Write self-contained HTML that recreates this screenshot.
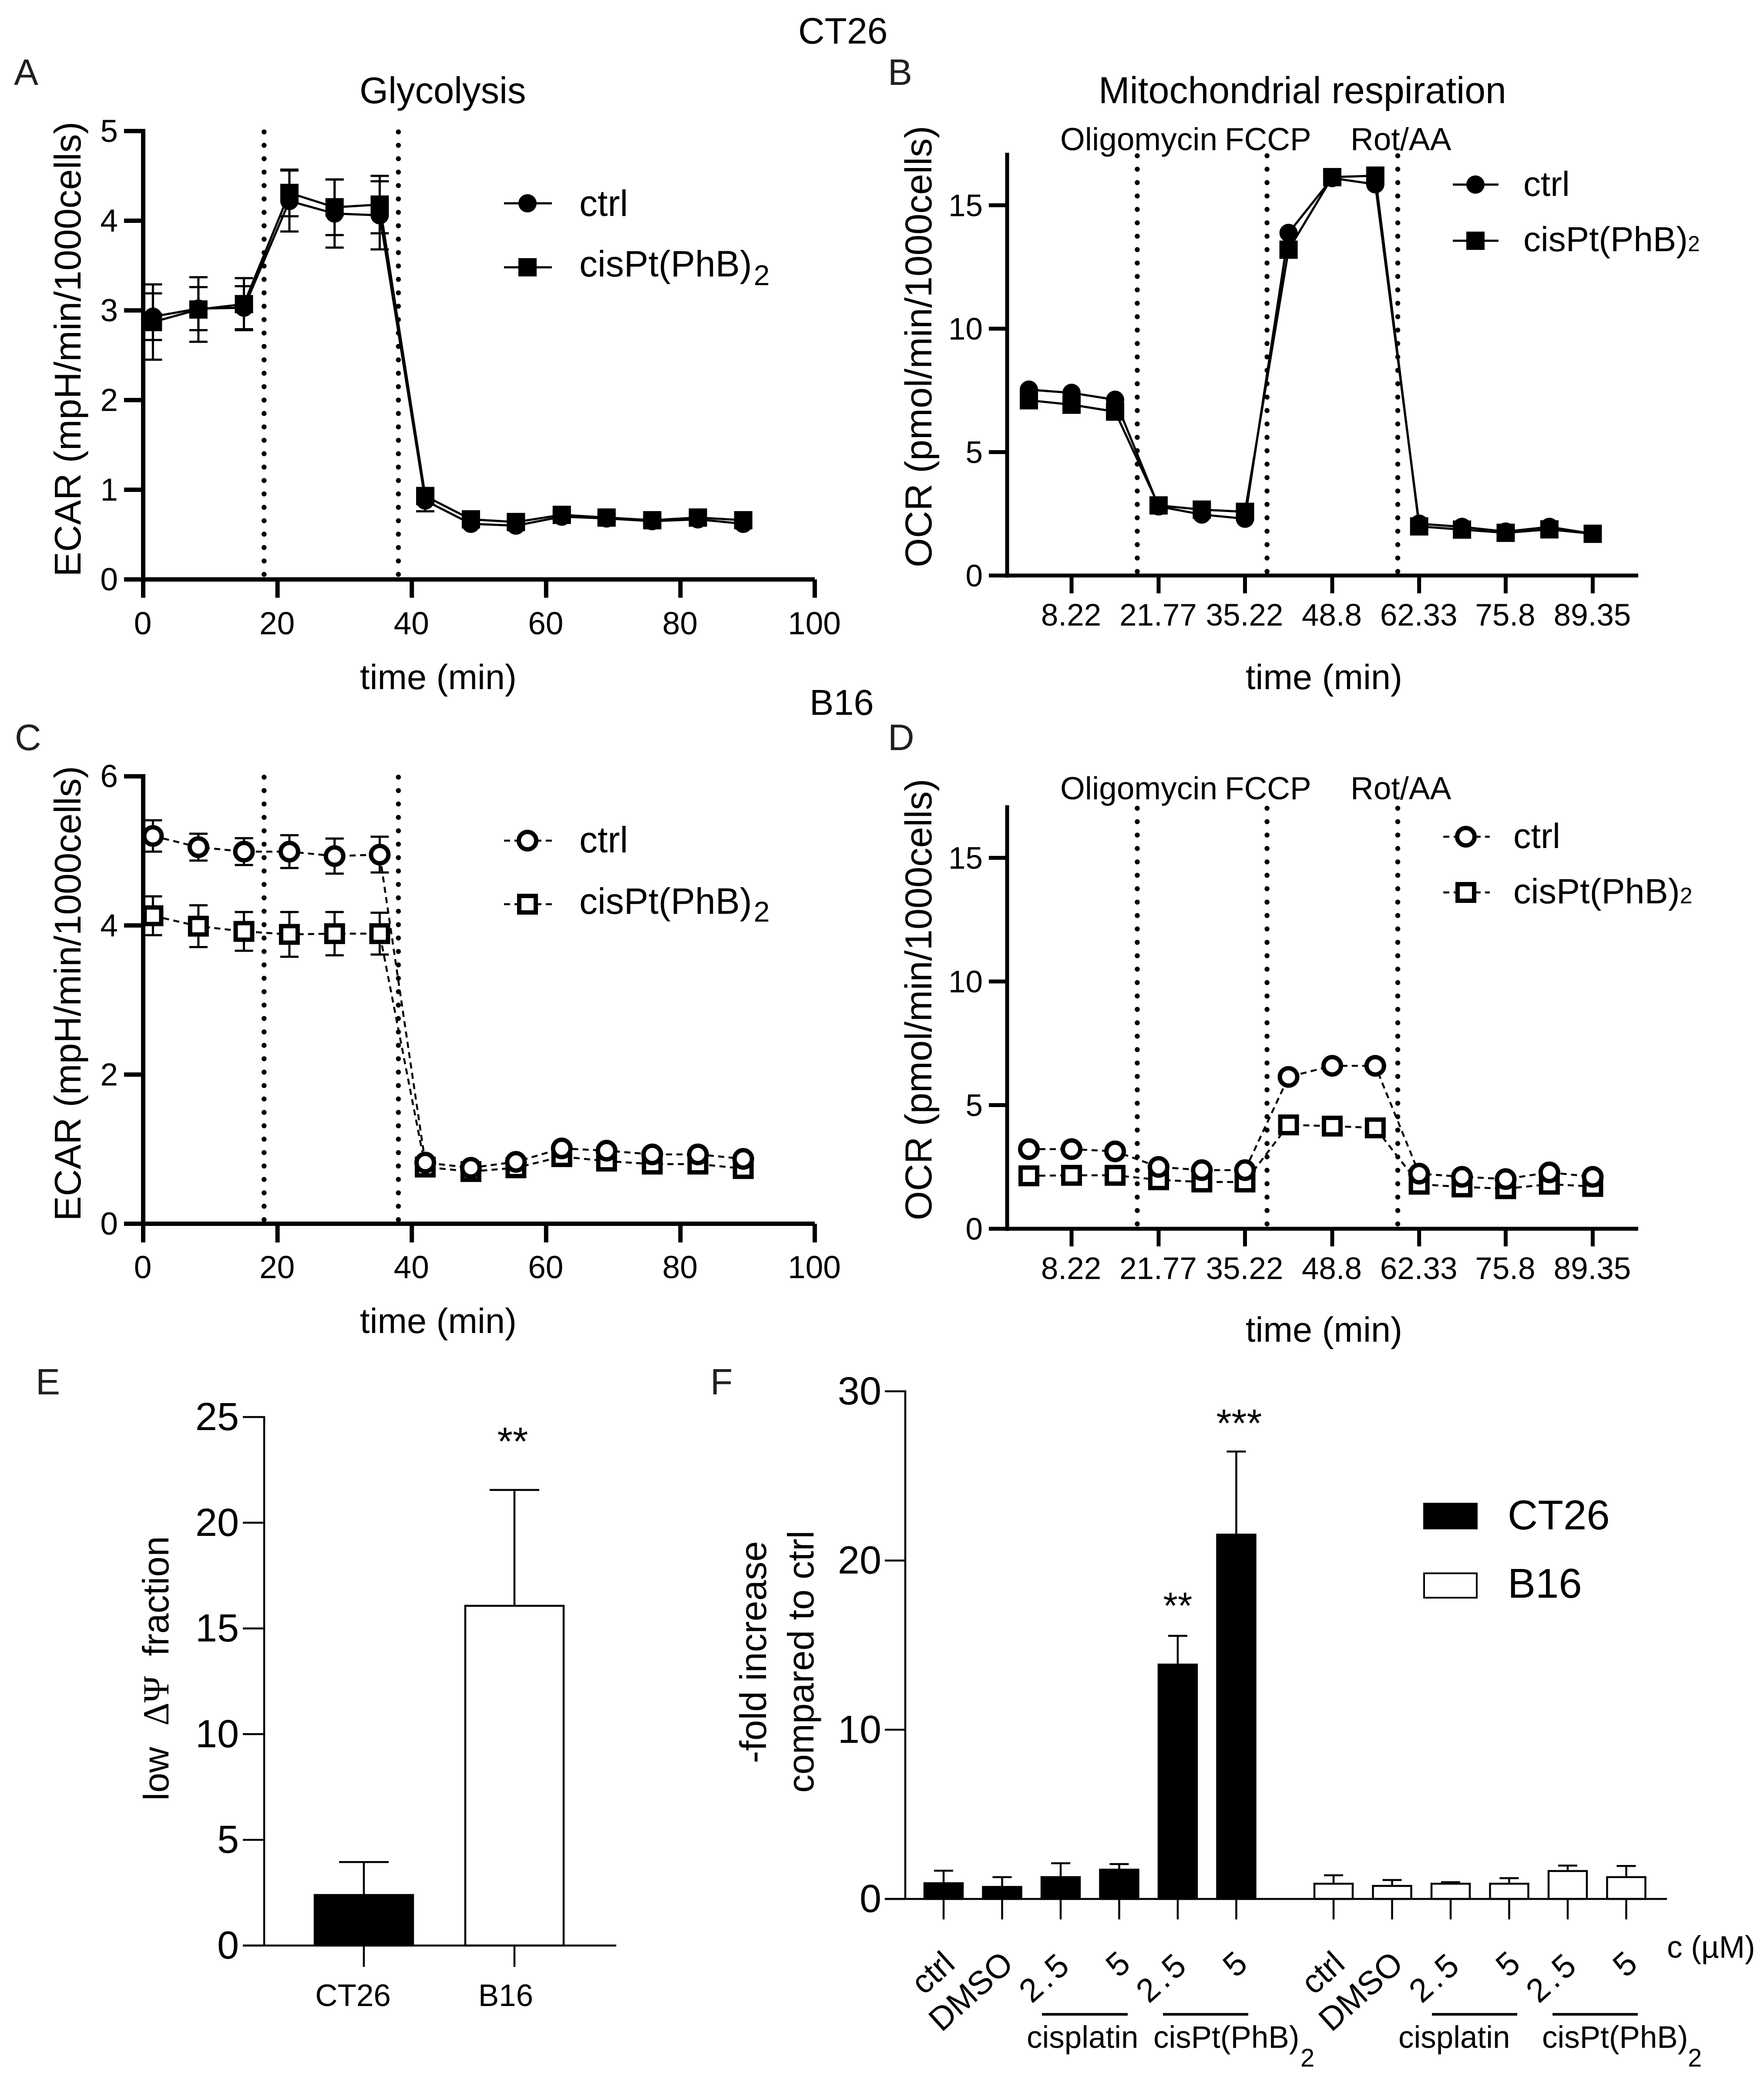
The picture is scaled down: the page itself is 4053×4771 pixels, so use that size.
<!DOCTYPE html>
<html lang="en">
<head>
<meta charset="utf-8">
<title>CT26 and B16 metabolic panels</title>
<style>
html,body{margin:0;padding:0;background:#fff;}
svg{display:block;font-family:"Liberation Sans",Arial,sans-serif;fill:#000;}
</style>
</head>
<body>
<svg id="figure" xmlns="http://www.w3.org/2000/svg" width="4053" height="4771" viewBox="0 0 4053 4771">
<rect width="4053" height="4771" fill="#fff"/>
<text x="1834" y="100" font-size="84">CT26</text>
<text x="1860" y="1642" font-size="83">B16</text>

<g id="panel-a">
<text x="32" y="195" font-size="84" fill="#231f20">A</text>
<text x="826" y="237" font-size="85">Glycolysis</text>
<text x="827" y="1583" font-size="81">time (min)</text>
<text transform="translate(185,802) rotate(-90)" text-anchor="middle" font-size="85.5">ECAR (mpH/min/1000cells)</text>
<g>
<line x1="1158" x2="1268" y1="467" y2="467" stroke="#000" stroke-width="5"/>
<circle cx="1212" cy="467" r="21"/>
<text x="1331" y="496" font-size="84">ctrl</text>
<line x1="1158" x2="1268" y1="614" y2="614" stroke="#000" stroke-width="5"/>
<rect x="1191" y="593" width="42" height="42"/>
<text x="1331" y="635" font-size="84">cisPt(PhB)<tspan font-size="66" dy="20" dx="4">2</tspan></text>
</g>
</g>

<g id="panel-b">
<text x="2040" y="195" font-size="84" fill="#231f20">B</text>
<text x="2524" y="237" font-size="86">Mitochondrial respiration</text>
<text x="2436" y="345" font-size="73">Oligomycin</text>
<text x="2814" y="345" font-size="73">FCCP</text>
<text x="3103" y="345" font-size="73">Rot/AA</text>
<text x="2862" y="1583" font-size="81">time (min)</text>
<text transform="translate(2140,796) rotate(-90)" text-anchor="middle" font-size="86.5">OCR (pmol/min/1000cells)</text>
<g>
<line x1="3338" x2="3443" y1="424" y2="424" stroke="#000" stroke-width="5"/>
<circle cx="3390" cy="424" r="21"/>
<text x="3500" y="450" font-size="80">ctrl</text>
<line x1="3338" x2="3443" y1="553" y2="553" stroke="#000" stroke-width="5"/>
<rect x="3369" y="532" width="42" height="42"/>
<text x="3500" y="577" font-size="80">cisPt(PhB)<tspan font-size="50">2</tspan></text>
</g>
</g>

<g id="panel-c">
<text x="34" y="1723" font-size="84" fill="#231f20">C</text>
<text x="827" y="3062" font-size="81">time (min)</text>
<text transform="translate(185,2282) rotate(-90)" text-anchor="middle" font-size="85.5">ECAR (mpH/min/1000cells)</text>
<g>
<line x1="1158" x2="1268" y1="1931" y2="1931" stroke="#000" stroke-width="4.5" stroke-dasharray="14 10"/>
<circle cx="1212" cy="1931" r="20" fill="#fff" stroke="#000" stroke-width="10"/>
<text x="1331" y="1958" font-size="84">ctrl</text>
<line x1="1158" x2="1268" y1="2077" y2="2077" stroke="#000" stroke-width="4.5" stroke-dasharray="14 10"/>
<rect x="1193" y="2058" width="38" height="38" fill="#fff" stroke="#000" stroke-width="10"/>
<text x="1331" y="2099" font-size="84">cisPt(PhB)<tspan font-size="66" dy="18" dx="4">2</tspan></text>
</g>
</g>

<g id="panel-d">
<text x="2040" y="1723" font-size="84" fill="#231f20">D</text>
<text x="2436" y="1836" font-size="73">Oligomycin</text>
<text x="2814" y="1836" font-size="73">FCCP</text>
<text x="3103" y="1836" font-size="73">Rot/AA</text>
<text x="2862" y="3082" font-size="81">time (min)</text>
<text transform="translate(2140,2296) rotate(-90)" text-anchor="middle" font-size="86.5">OCR (pmol/min/1000cells)</text>
<g>
<line x1="3316" x2="3423" y1="1922" y2="1922" stroke="#000" stroke-width="4.5" stroke-dasharray="14 10"/>
<circle cx="3368" cy="1922" r="20" fill="#fff" stroke="#000" stroke-width="10"/>
<text x="3477" y="1948" font-size="81">ctrl</text>
<line x1="3316" x2="3423" y1="2050" y2="2050" stroke="#000" stroke-width="4.5" stroke-dasharray="14 10"/>
<rect x="3349" y="2031" width="38" height="38" fill="#fff" stroke="#000" stroke-width="10"/>
<text x="3477" y="2075" font-size="81">cisPt(PhB)<tspan font-size="52">2</tspan></text>
</g>
</g>

<g id="panel-e">
<text x="82" y="3203" font-size="84" fill="#231f20">E</text>
<text transform="translate(387,4136) rotate(-90)" font-size="82">low</text>
<text transform="translate(387,3964) rotate(-90)" font-size="85" textLength="114" lengthAdjust="spacingAndGlyphs" font-family="'Liberation Serif',serif">&#916;&#936;</text>
<text transform="translate(387,3804) rotate(-90)" font-size="84">fraction</text>
<text x="1178" y="3342" font-size="91" text-anchor="middle">**</text>
</g>

<g id="panel-f">
<text x="1632" y="3203" font-size="84" fill="#231f20">F</text>
<text transform="translate(1760,3795) rotate(-90)" text-anchor="middle" font-size="85">-fold increase</text>
<text transform="translate(1869,3817) rotate(-90)" text-anchor="middle" font-size="84">compared to ctrl</text>
<text x="2706" y="3718" font-size="86" text-anchor="middle">**</text>
<text x="2847" y="3300" font-size="90" text-anchor="middle">***</text>
<g>
<rect x="3270" y="3452" width="125" height="61"/>
<text x="3464" y="3513" font-size="96">CT26</text>
<rect x="3272" y="3614" width="121" height="56" fill="#fff" stroke="#000" stroke-width="4"/>
<text x="3464" y="3670" font-size="96">B16</text>
</g>
<text x="3830" y="4497" font-size="71">c (&#181;M)</text>
<line x1="2394" x2="2591" y1="4627" y2="4627" stroke="#000" stroke-width="6"/>
<line x1="2672" x2="2868" y1="4627" y2="4627" stroke="#000" stroke-width="6"/>
<line x1="3290" x2="3486" y1="4627" y2="4627" stroke="#000" stroke-width="6"/>
<line x1="3567" x2="3763" y1="4627" y2="4627" stroke="#000" stroke-width="6"/>
<text x="2359" y="4704" font-size="71">cisplatin</text>
<text x="2650" y="4704" font-size="71">cisPt(PhB)</text>
<text x="2988" y="4747" font-size="58">2</text>
<text x="3213" y="4704" font-size="71">cisplatin</text>
<text x="3543" y="4704" font-size="71">cisPt(PhB)</text>
<text x="3878" y="4747" font-size="58">2</text>
</g>
</svg>

<script>
// Shared time base and axis values
const times = [1.45, 8.22, 15, 21.77, 28.5, 35.22, 42, 48.8, 55.5, 62.33, 69, 75.8, 82.6, 89.35];
const ocrTimes = [1.58, 8.22, 15, 21.77, 28.5, 35.22, 42, 48.8, 55.5, 62.33, 69, 75.8, 82.6, 89.35];
const minuteTicks = [0, 20, 40, 60, 80, 100];
const ocrTimeTicks = [8.22, 21.77, 35.22, 48.8, 62.33, 75.8, 89.35];
const ocrValueTicks = [0, 5, 10, 15];
const ecarTicksA = [0, 1, 2, 3, 4, 5];
const ecarTicksC = [0, 2, 4, 6];
const injectionsEcar = [18, 38];
const injectionsOcr = [18.45, 38.65, 59];

// Panel A values
const aCtrl = [2.93, 3.02, 3.03, 4.22, 4.08, 4.06, 0.88, 0.62, 0.6, 0.7, 0.68, 0.65, 0.67, 0.62];
const aCtrlErr = [0.26, 0.24, 0.24, 0.34, 0.38, 0.38, 0.12, 0.04, 0.04, 0.04, 0.04, 0.04, 0.04, 0.04];
const aDrug = [2.87, 3.01, 3.07, 4.31, 4.15, 4.18, 0.93, 0.67, 0.64, 0.72, 0.69, 0.66, 0.69, 0.66];
const aDrugErr = [0.42, 0.36, 0.29, 0.26, 0.31, 0.32, 0.05, 0.04, 0.04, 0.04, 0.04, 0.04, 0.04, 0.04];

// Panel B values
const bCtrl = [7.53, 7.4, 7.12, 2.8, 2.47, 2.3, 13.88, 16.1, 15.85, 2.1, 1.97, 1.78, 1.97, 1.69];
const bDrug = [7.1, 6.92, 6.64, 2.84, 2.67, 2.58, 13.2, 16.14, 16.2, 1.99, 1.86, 1.73, 1.87, 1.69];

// Panel C values
const cCtrl = [5.2, 5.05, 4.99, 4.99, 4.93, 4.95, 0.82, 0.75, 0.83, 1.01, 0.98, 0.93, 0.93, 0.87];
const cCtrlErr = [0.21, 0.18, 0.18, 0.22, 0.235, 0.24, 0.03, 0.03, 0.03, 0.03, 0.03, 0.03, 0.03, 0.03];
const cDrug = [4.13, 3.99, 3.92, 3.88, 3.89, 3.89, 0.76, 0.7, 0.75, 0.9, 0.84, 0.8, 0.8, 0.74];
const cDrugErr = [0.26, 0.28, 0.26, 0.3, 0.29, 0.28, 0.03, 0.03, 0.03, 0.03, 0.03, 0.03, 0.03, 0.03];

// Panel D values
const dCtrl = [3.22, 3.22, 3.13, 2.5, 2.37, 2.37, 6.14, 6.59, 6.59, 2.23, 2.1, 2.01, 2.28, 2.1];
const dDrug = [2.14, 2.16, 2.16, 1.98, 1.89, 1.89, 4.2, 4.15, 4.08, 1.8, 1.69, 1.62, 1.8, 1.71];

// Panel E values
const eCategories = ['CT26', 'B16'];
const eValues = [2.39, 16.07];
const eUpper = [3.95, 21.55];
const eTicks = [0, 5, 10, 15, 20, 25];

// Panel F values
const fCategories = ['ctrl', 'DMSO', '2.5', '5', '2.5', '5', 'ctrl', 'DMSO', '2.5', '5', '2.5', '5'];
const fValues = [0.93, 0.71, 1.29, 1.73, 13.85, 21.53, 0.9, 0.77, 0.9, 0.9, 1.65, 1.29];
const fUpper = [1.67, 1.29, 2.11, 2.06, 15.55, 26.44, 1.4, 1.12, 0.99, 1.23, 1.97, 1.95];
const fTicks = [0, 10, 20, 30];

const SVG_NS = 'http://www.w3.org/2000/svg';

function make(parent, tag, attrs) {
  const node = document.createElementNS(SVG_NS, tag);
  for (const key in attrs) node.setAttribute(key, attrs[key]);
  parent.appendChild(node);
  return node;
}

function stroke(parent, x1, y1, x2, y2, width) {
  return make(parent, 'line', {x1: x1, y1: y1, x2: x2, y2: y2, stroke: '#000', 'stroke-width': width, 'stroke-linecap': 'butt'});
}

function drawTimePanel(cfg) {
  const root = document.getElementById(cfg.id);
  const px = t => cfg.xOrigin + (t - cfg.xRef) * cfg.xUnit;
  const py = v => cfg.y0 - v * cfg.yUnit;

  const axes = make(root, 'g', {});
  
  

  const yAxis = stroke(axes, cfg.axisX, py(cfg.yMax) - 5, cfg.axisX, cfg.y0 + 5, cfg.axisWidth);
  
  

  const xAxis = stroke(axes, cfg.axisX, cfg.y0, cfg.axisEnd, cfg.y0, cfg.axisWidth);
  
  

  cfg.yTicks.forEach(v => {
    const tick = stroke(axes, cfg.yTickLeft, py(v), cfg.axisX, py(v), cfg.axisWidth);
    
    
    const label = make(axes, 'text', {x: cfg.yLabelRight, y: py(v) + 25, 'font-size': cfg.yFont, 'text-anchor': 'end'});
    label.textContent = String(v);
    
    
  });

  cfg.xTicks.forEach(t => {
    const tick = stroke(axes, px(t), cfg.y0, px(t), cfg.xTickBottom, cfg.axisWidth);
    
    
    const label = make(axes, 'text', {x: px(t) - 1, y: cfg.xLabelY, 'font-size': cfg.xFont, 'text-anchor': 'middle'});
    label.textContent = String(t);
    
    
  });

  cfg.injections.forEach(t => {
    const guide = make(axes, 'line', {x1: px(t), x2: px(t), y1: py(cfg.yMax) + 2, y2: cfg.y0, stroke: '#000', 'stroke-width': 11.5, 'stroke-linecap': 'round', 'stroke-dasharray': '0 30.8'});
    
    
  });

  const dash = cfg.open ? '14 10' : 'none';
  const lineWidth = cfg.open ? 4.5 : 5;
  cfg.series.forEach(s => {
    const group = make(root, 'g', {});
    
    

    const pts = s.values.map((v, i) => px(cfg.times[i]) + ',' + py(v)).join(' ');
    const path = make(group, 'polyline', {points: pts, fill: 'none', stroke: '#000', 'stroke-width': lineWidth, 'stroke-dasharray': dash, 'stroke-linejoin': 'round'});
    
    

    if (s.err) {
      s.values.forEach((v, i) => {
        const x = px(cfg.times[i]);
        const hi = py(v + s.err[i]);
        const lo = py(v - s.err[i]);
        const stem = stroke(group, x, hi, x, lo, 5);
        
        
        const capTop = stroke(group, x - 21, hi, x + 21, hi, 5);
        
        
        const capBottom = stroke(group, x - 21, lo, x + 21, lo, 5);
        
        
      });
    }

    s.values.forEach((v, i) => {
      const x = px(cfg.times[i]);
      const y = py(v);
      const fill = cfg.open ? '#fff' : '#000';
      const sw = cfg.open ? 10 : 0;
      let mark;
      if (s.shape === 'circle') {
        mark = make(group, 'circle', {cx: x, cy: y, r: cfg.open ? 20 : 21, fill: fill, stroke: '#000', 'stroke-width': sw});
      } else {
        const half = cfg.open ? 19 : 21;
        mark = make(group, 'rect', {x: x - half, y: y - half, width: half * 2, height: half * 2, fill: fill, stroke: '#000', 'stroke-width': sw});
      }
      
      
    });
  });
}

function drawBarPanel(cfg) {
  const root = document.getElementById(cfg.id);
  const py = v => cfg.y0 - v * cfg.yUnit;

  const axes = make(root, 'g', {});
  
  

  const yAxis = stroke(axes, cfg.axisX, py(cfg.yMax) - 2, cfg.axisX, cfg.y0 + 2, 4.5);
  
  

  cfg.yTicks.forEach(v => {
    const tick = stroke(axes, cfg.yTickLeft, py(v), cfg.axisX, py(v), 4.5);
    
    
    const label = make(axes, 'text', {x: cfg.yLabelRight, y: py(v) + cfg.yLabelDrop, 'font-size': cfg.yFont, 'text-anchor': 'end'});
    label.textContent = String(v);
    
    
  });

  cfg.values.forEach((v, i) => {
    const x = cfg.xOf(i);
    const solid = cfg.isSolid(i);

    const stem = stroke(root, x, py(cfg.upper[i]), x, py(v), 4.5);
    
    

    const cap = stroke(root, x - cfg.capHalf, py(cfg.upper[i]), x + cfg.capHalf, py(cfg.upper[i]), 4.5);
    
    

    const bar = make(root, 'rect', {x: x - cfg.barHalf, y: py(v), width: cfg.barHalf * 2, height: v * cfg.yUnit, fill: solid ? '#000' : '#fff', stroke: '#000', 'stroke-width': 4.5});
    
    

    const tick = stroke(root, x, cfg.y0, x, cfg.xTickBottom, 4.5);
    
    

    cfg.placeLabel(root, i, x);
  });

  const xAxis = stroke(root, cfg.yTickLeft, cfg.y0, cfg.axisEnd, cfg.y0, 4.5);
  
  
}

drawTimePanel({
  id: 'panel-a', times: times, xOrigin: 329, xRef: 0, xUnit: 15.43, y0: 1331, yUnit: 206, yMax: 5,
  axisX: 329, axisEnd: 1872, axisWidth: 10, yTickLeft: 285, yLabelRight: 271, yFont: 73, xFont: 73, xTickBottom: 1373, xLabelY: 1457,
  xTicks: minuteTicks, yTicks: ecarTicksA, injections: injectionsEcar, open: false,
  series: [
    {name: 'ctrl', shape: 'circle', values: aCtrl, err: aCtrlErr},
    {name: 'cispt', shape: 'square', values: aDrug, err: aDrugErr}
  ]
});

drawTimePanel({
  id: 'panel-b', times: ocrTimes, xOrigin: 2462, xRef: 8.22, xUnit: 14.76, y0: 1322, yUnit: 56.7, yMax: 17.04,
  axisX: 2314, axisEnd: 3764, axisWidth: 9, yTickLeft: 2272, yLabelRight: 2258, yFont: 71, xFont: 71, xTickBottom: 1363, xLabelY: 1437,
  xTicks: ocrTimeTicks, yTicks: ocrValueTicks, injections: injectionsOcr, open: false,
  series: [
    {name: 'ctrl', shape: 'circle', values: bCtrl},
    {name: 'cispt', shape: 'square', values: bDrug}
  ]
});

drawTimePanel({
  id: 'panel-c', times: times, xOrigin: 329, xRef: 0, xUnit: 15.43, y0: 2811, yUnit: 171.3, yMax: 6,
  axisX: 329, axisEnd: 1872, axisWidth: 10, yTickLeft: 285, yLabelRight: 271, yFont: 73, xFont: 73, xTickBottom: 2854, xLabelY: 2936,
  xTicks: minuteTicks, yTicks: ecarTicksC, injections: injectionsEcar, open: true,
  series: [
    {name: 'cispt', shape: 'square', values: cDrug, err: cDrugErr},
    {name: 'ctrl', shape: 'circle', values: cCtrl, err: cCtrlErr}
  ]
});

drawTimePanel({
  id: 'panel-d', times: ocrTimes, xOrigin: 2462, xRef: 8.22, xUnit: 14.76, y0: 2822.5, yUnit: 56.8, yMax: 17.04,
  axisX: 2314, axisEnd: 3764, axisWidth: 9, yTickLeft: 2272, yLabelRight: 2258, yFont: 71, xFont: 71, xTickBottom: 2863, xLabelY: 2938,
  xTicks: ocrTimeTicks, yTicks: ocrValueTicks, injections: injectionsOcr, open: true,
  series: [
    {name: 'cispt', shape: 'square', values: dDrug},
    {name: 'ctrl', shape: 'circle', values: dCtrl}
  ]
});

drawBarPanel({
  id: 'panel-e', y0: 4469, yUnit: 48.56, yMax: 25, axisX: 607, axisEnd: 1416, yTickLeft: 558,
  yLabelRight: 549, yLabelDrop: 30, yFont: 90, yTicks: eTicks, xTickBottom: 4518,
  values: eValues, upper: eUpper, barHalf: 113, capHalf: 57,
  xOf: i => 836 + i * 346,
  isSolid: i => i === 0,
  placeLabel: (root, i, x) => {
    const label = make(root, 'text', {x: x - 25 + i * 5, y: 4608, 'font-size': 71, 'text-anchor': 'middle'});
    label.textContent = eCategories[i];
    
    
  }
});

drawBarPanel({
  id: 'panel-f', y0: 4362, yUnit: 38.87, yMax: 30, axisX: 2080, axisEnd: 3830, yTickLeft: 2033,
  yLabelRight: 2025, yLabelDrop: 30, yFont: 90, yTicks: fTicks, xTickBottom: 4409,
  values: fValues, upper: fUpper, barHalf: 44, capHalf: 22,
  xOf: i => 2168 + 134.5 * i + (i >= 6 ? 89 : 0),
  isSolid: i => i < 6,
  placeLabel: (root, i, x) => {
    const ax = x + 30;
    const ay = 4517;
    const label = make(root, 'text', {transform: 'translate(' + ax + ',' + ay + ') rotate(-42)', 'font-size': 76, 'text-anchor': 'end', 'letter-spacing': fCategories[i] === '2.5' ? 8 : 0});
    label.textContent = fCategories[i];
    
    
  }
});
</script>
</body>
</html>
